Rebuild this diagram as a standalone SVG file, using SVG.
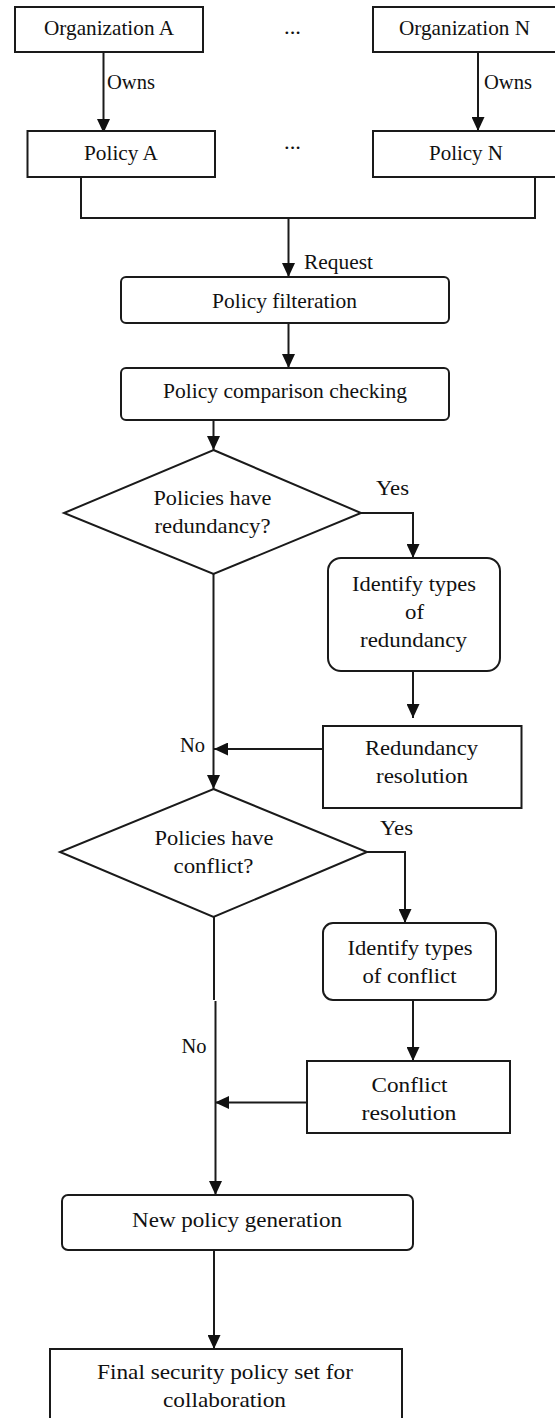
<svg xmlns="http://www.w3.org/2000/svg" width="555" height="1418" viewBox="0 0 555 1418">
<style>
.box{fill:#fff;stroke:#1a1a1a;stroke-width:2}
.ln{fill:none;stroke:#1a1a1a;stroke-width:2}
.arr{marker-end:url(#ah)}
text{font-family:"Liberation Serif","Times New Roman",serif;font-size:21px;fill:#111}
</style>
<defs>
<marker id="ah" markerUnits="userSpaceOnUse" viewBox="0 0 14 13" refX="14" refY="6.5" markerWidth="14" markerHeight="13" orient="auto">
<path d="M0 0 L14 6.5 L0 13 z" fill="#111"/>
</marker>
</defs>
<rect width="555" height="1418" fill="#fff"/>
<g id="connectors">
<path class="ln arr" d="M103.5 52 V133"/>
<path class="ln arr" d="M478 52 V131"/>
<path class="ln" d="M81 177 V218 H535 V177"/>
<path class="ln arr" d="M288.5 218 V277"/>
<path class="ln arr" d="M288.5 323 V368"/>
<path class="ln arr" d="M213.5 420 V450"/>
<path class="ln arr" d="M361 513 H413 V558"/>
<path class="ln arr" d="M413 671 V718"/>
<path class="ln arr" d="M323 749 H214"/>
<path class="ln arr" d="M213.5 574 V789"/>
<path class="ln arr" d="M367 852 H405 V923"/>
<path class="ln arr" d="M413 1000 V1061"/>
<path class="ln arr" d="M307 1102.5 H215"/>
<path class="ln" d="M214 917 V1000"/>
<path class="ln arr" d="M215.5 1001 V1195"/>
<path class="ln arr" d="M214 1250 V1349"/>
<text x="107" y="89" textLength="48" lengthAdjust="spacingAndGlyphs">Owns</text>
<text x="484" y="89" textLength="48" lengthAdjust="spacingAndGlyphs">Owns</text>
<text x="304" y="269" textLength="69" lengthAdjust="spacingAndGlyphs">Request</text>
<text x="376" y="495" textLength="33" lengthAdjust="spacingAndGlyphs">Yes</text>
<text x="180" y="752" textLength="25" lengthAdjust="spacingAndGlyphs">No</text>
<text x="380" y="835" textLength="33" lengthAdjust="spacingAndGlyphs">Yes</text>
<text x="181.5" y="1053" textLength="25" lengthAdjust="spacingAndGlyphs">No</text>
</g>
<g id="dots-top"><text x="284" y="34" textLength="17" lengthAdjust="spacingAndGlyphs">...</text></g>
<g id="dots-mid"><text x="284" y="149" textLength="17" lengthAdjust="spacingAndGlyphs">...</text></g>
<g id="org-a">
<rect class="box" x="15" y="7" width="188" height="45"/>
<text x="44" y="35" textLength="130" lengthAdjust="spacingAndGlyphs">Organization A</text>
</g>
<g id="org-n">
<rect class="box" x="373" y="7" width="183" height="45"/>
<text x="399" y="35" textLength="131" lengthAdjust="spacingAndGlyphs">Organization N</text>
</g>
<g id="policy-a">
<rect class="box" x="27.5" y="131" width="187.5" height="46"/>
<text x="84" y="160" textLength="74" lengthAdjust="spacingAndGlyphs">Policy A</text>
</g>
<g id="policy-n">
<rect class="box" x="373" y="131" width="183" height="46"/>
<text x="429" y="160" textLength="74" lengthAdjust="spacingAndGlyphs">Policy N</text>
</g>
<g id="filteration">
<rect class="box" x="121" y="277" width="328" height="46" rx="5"/>
<text x="212" y="308" textLength="145" lengthAdjust="spacingAndGlyphs">Policy filteration</text>
</g>
<g id="comparison">
<rect class="box" x="121" y="368" width="328" height="52" rx="5"/>
<text x="163" y="398" textLength="244" lengthAdjust="spacingAndGlyphs">Policy comparison checking</text>
</g>
<g id="redundancy-decision">
<polygon class="box" points="213.5,450 361,513 213.5,574 64,513"/>
<text x="153.5" y="505" textLength="118" lengthAdjust="spacingAndGlyphs">Policies have</text>
<text x="154.5" y="533" textLength="116" lengthAdjust="spacingAndGlyphs">redundancy?</text>
</g>
<g id="identify-redundancy">
<rect class="box" x="328" y="558" width="172" height="113" rx="13"/>
<text x="352" y="591" textLength="124" lengthAdjust="spacingAndGlyphs">Identify types</text>
<text x="405" y="619" textLength="19" lengthAdjust="spacingAndGlyphs">of</text>
<text x="360" y="647" textLength="107" lengthAdjust="spacingAndGlyphs">redundancy</text>
</g>
<g id="redundancy-resolution">
<rect class="box" x="323" y="726" width="198.5" height="82"/>
<text x="365" y="755" textLength="113" lengthAdjust="spacingAndGlyphs">Redundancy</text>
<text x="376" y="783" textLength="92" lengthAdjust="spacingAndGlyphs">resolution</text>
</g>
<g id="conflict-decision">
<polygon class="box" points="213.5,789 367,852 213.5,917 60,852"/>
<text x="154.5" y="845" textLength="119" lengthAdjust="spacingAndGlyphs">Policies have</text>
<text x="173.5" y="873" textLength="80" lengthAdjust="spacingAndGlyphs">conflict?</text>
</g>
<g id="identify-conflict">
<rect class="box" x="323" y="923" width="173" height="77" rx="10"/>
<text x="347.5" y="955" textLength="125" lengthAdjust="spacingAndGlyphs">Identify types</text>
<text x="362.5" y="983" textLength="94" lengthAdjust="spacingAndGlyphs">of conflict</text>
</g>
<g id="conflict-resolution">
<rect class="box" x="307" y="1061" width="203" height="72"/>
<text x="371.5" y="1092" textLength="76" lengthAdjust="spacingAndGlyphs">Conflict</text>
<text x="361.5" y="1120" textLength="95" lengthAdjust="spacingAndGlyphs">resolution</text>
</g>
<g id="new-policy">
<rect class="box" x="62" y="1195" width="351" height="55" rx="6"/>
<text x="132" y="1227" textLength="210" lengthAdjust="spacingAndGlyphs">New policy generation</text>
</g>
<g id="final-set">
<rect class="box" x="50" y="1349" width="352" height="80"/>
<text x="97" y="1379" textLength="256" lengthAdjust="spacingAndGlyphs">Final security policy set for</text>
<text x="163" y="1407" textLength="123" lengthAdjust="spacingAndGlyphs">collaboration</text>
</g>
</svg>
